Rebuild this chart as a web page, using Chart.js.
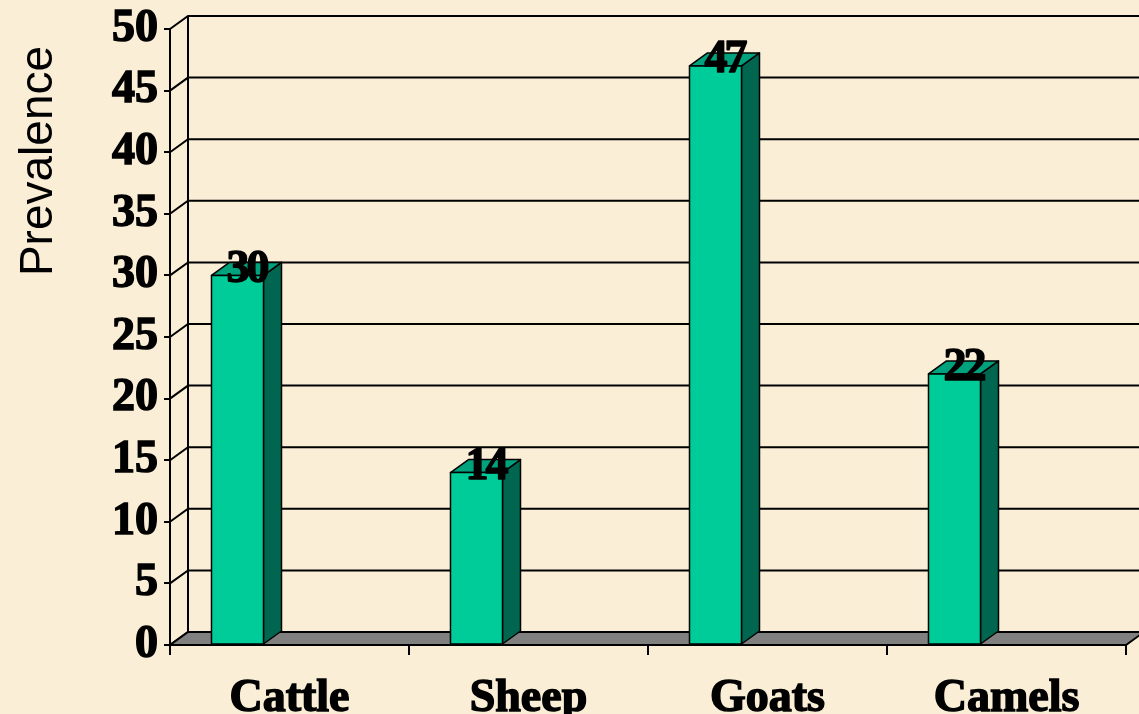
<!DOCTYPE html>
<html>
<head>
<meta charset="utf-8">
<script src="https://cdn.jsdelivr.net/npm/chart.js@4/dist/chart.umd.min.js"></script>
<style>
  html, body { margin: 0; padding: 0; background: #faeed6; }
  #wrap { width: 1139px; height: 714px; }
</style>
</head>
<body>
<div id="wrap"><canvas id="prevChart"></canvas></div>
<script>
// data
const categories = ['Cattle', 'Sheep', 'Goats', 'Camels'];
const prevalence = [30, 14, 47, 22];
const yMin = 0, yMax = 50, yStep = 5;
const yTitle = 'Prevalence';

// 3d look
const DX = 18, DY = 13;
const FRONT = '#00cc99', TOP = '#00a27e', SIDE = '#006650', FLOOR = '#808080';

const threeD = {
    id: 'threeD',
    beforeDraw(chart) {
        const ctx = chart.ctx;
        ctx.save();
        ctx.fillStyle = '#faeed6';
        ctx.fillRect(0, 0, chart.width, chart.height);
        ctx.restore();
    },
    beforeDatasetsDraw(chart) {
        const { ctx, chartArea: a, scales: { y } } = chart;
        ctx.save();
        ctx.strokeStyle = '#000';
        ctx.lineWidth = 2;
        // back wall grid lines + the slanted links to the front axis
        y.ticks.forEach(t => {
            const py = y.getPixelForValue(t.value);
            ctx.beginPath();
            ctx.moveTo(a.left, py);
            ctx.lineTo(a.left + DX, py - DY);
            ctx.lineTo(a.right + DX, py - DY);
            ctx.stroke();
        });
        ctx.beginPath();
        ctx.moveTo(a.left + DX, y.getPixelForValue(yMax) - DY);
        ctx.lineTo(a.left + DX, y.getPixelForValue(yMin) - DY);
        ctx.stroke();
        // floor
        const b = y.getPixelForValue(yMin);
        ctx.beginPath();
        ctx.moveTo(a.left, b);
        ctx.lineTo(a.right, b);
        ctx.lineTo(a.right + DX, b - DY);
        ctx.lineTo(a.left + DX, b - DY);
        ctx.closePath();
        ctx.fillStyle = FLOOR;
        ctx.fill();
        ctx.stroke();
        // title
        ctx.fillStyle = '#000';
        ctx.font = '46px "Liberation Sans", Arial, sans-serif';
        ctx.translate(52, 161);
        ctx.rotate(-Math.PI / 2);
        ctx.textAlign = 'center';
        ctx.textBaseline = 'alphabetic';
        ctx.fillText(yTitle, 0, 0);
        ctx.restore();
    },
    afterDatasetsDraw(chart) {
        const ctx = chart.ctx;
        const meta = chart.getDatasetMeta(0);
        ctx.save();
        ctx.strokeStyle = '#000';
        ctx.lineWidth = 1.5;
        ctx.lineJoin = 'round';
        meta.data.forEach((el, i) => {
            const w = el.width;
            const l = el.x - w - w / 2, r = l + w;
            const t = el.y, b = el.base;
            // side
            ctx.beginPath();
            ctx.moveTo(r, t); ctx.lineTo(r + DX, t - DY);
            ctx.lineTo(r + DX, b - DY); ctx.lineTo(r, b);
            ctx.closePath();
            ctx.fillStyle = SIDE; ctx.fill(); ctx.stroke();
            // top
            ctx.beginPath();
            ctx.moveTo(l, t); ctx.lineTo(l + DX, t - DY);
            ctx.lineTo(r + DX, t - DY); ctx.lineTo(r, t);
            ctx.closePath();
            ctx.fillStyle = TOP; ctx.fill(); ctx.stroke();
            // front
            ctx.fillStyle = FRONT;
            ctx.fillRect(l, t, w, b - t);
            ctx.strokeRect(l, t, w, b - t);
            // value
            ctx.fillStyle = '#000';
            ctx.font = 'bold 46px "Liberation Serif", "Times New Roman", serif';
            ctx.letterSpacing = '-3px';
            ctx.textAlign = 'center';
            ctx.textBaseline = 'middle';
            ctx.lineWidth = 1.5;
            const tx = (l + r) / 2 + DX / 2, ty = t - DY / 2 + 1;
            ctx.strokeText(String(prevalence[i]), tx, ty);
            ctx.fillText(String(prevalence[i]), tx, ty);
        });
        ctx.restore();
    }
};

const tickFont = { family: '"Liberation Serif", "Times New Roman", serif', size: 46, weight: 'bold', lineHeight: 1 };

new Chart(document.getElementById('prevChart'), {
    type: 'bar',
    data: {
        labels: categories,
        datasets: [{
            data: prevalence,
            backgroundColor: 'rgba(0,0,0,0)',
            borderWidth: 0,
            barPercentage: 0.2176,
            categoryPercentage: 1
        }]
    },
    options: {
        responsive: true,
        maintainAspectRatio: false,
        animation: false,
        events: [],
        layout: { padding: { top: 25, right: 13, left: 0, bottom: 0 } },
        plugins: { legend: { display: false }, tooltip: { enabled: false } },
        scales: {
            x: {
                grid: { drawOnChartArea: false, drawTicks: true, tickLength: 10, color: '#000', lineWidth: 2 },
                border: { display: true, color: '#000', width: 2 },
                ticks: { color: '#000', font: tickFont, padding: 21, maxRotation: 0, textStrokeColor: '#000', textStrokeWidth: 1.5 },
                afterFit: s => { s.height = 69; }
            },
            y: {
                min: yMin,
                max: yMax,
                grid: { drawOnChartArea: false, drawTicks: true, tickLength: 6, color: '#000', lineWidth: 2 },
                border: { display: true, color: '#000', width: 2 },
                ticks: { stepSize: yStep, color: '#000', font: tickFont, padding: 6, textStrokeColor: '#000', textStrokeWidth: 1.5 },
                afterFit: s => { s.width = 170; }
            }
        }
    },
    plugins: [threeD]
});
</script>
</body>
</html>
